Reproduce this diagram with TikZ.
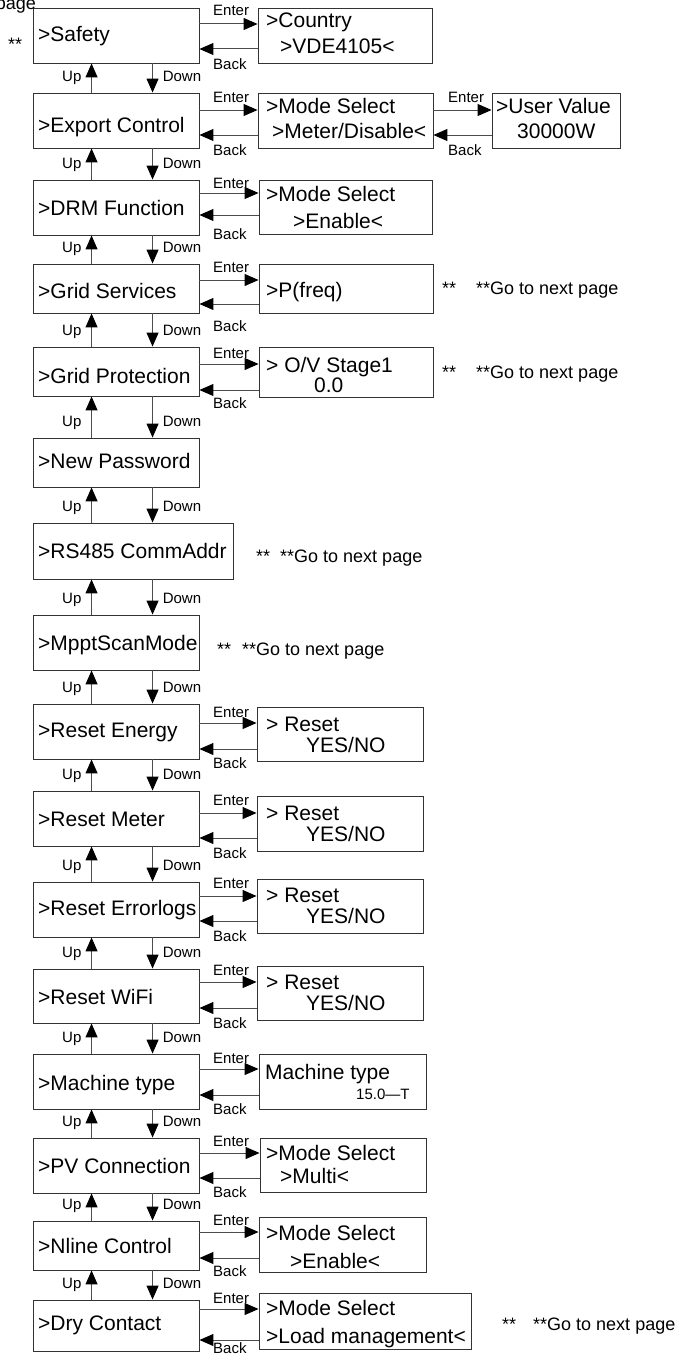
\documentclass[tikz,border=0pt]{standalone}
\usepackage{fontspec}
\setmainfont{Liberation Sans}
\usetikzlibrary{arrows.meta,fit}
\begin{document}
\begin{tikzpicture}[x=1pt,y=-1pt,
  box/.style={draw=black!80, line width=0.9pt, inner sep=0pt},
  big/.style={font=\fontsize{21}{25}\selectfont, inner sep=0pt, anchor=base west},
  small/.style={font=\fontsize{15}{18}\selectfont, inner sep=0pt, anchor=base west},
  note/.style={font=\fontsize{18}{21}\selectfont, inner sep=0pt, anchor=base west},
  arr/.style={draw=black!70, line width=1pt, -{Triangle[length=14pt,width=12pt,color=black]}}]
\useasboundingbox (0,0) rectangle (680,1354);

% left column boxes
\node[box, fit={(33,8)(199,63)}] (L1) {};
\node[box, fit={(33,93)(199,148)}] (L2) {};
\node[box, fit={(33,180)(199,235)}] (L3) {};
\node[box, fit={(33,264)(199,313)}] (L4) {};
\node[box, fit={(33,347)(199,396)}] (L5) {};
\node[box, fit={(33,438)(199,487)}] (L6) {};
\node[box, fit={(33,523)(233,579)}] (L7) {};
\node[box, fit={(33,615)(199,670)}] (L8) {};
\node[box, fit={(33,704)(199,759)}] (L9) {};
\node[box, fit={(33,791)(199,846)}] (L10) {};
\node[box, fit={(33,882)(199,937)}] (L11) {};
\node[box, fit={(33,969)(199,1023)}] (L12) {};
\node[box, fit={(33,1054)(199,1109)}] (L13) {};
\node[box, fit={(33,1138)(199,1193)}] (L14) {};
\node[box, fit={(33,1221)(199,1270)}] (L15) {};
\node[box, fit={(33,1300)(199,1351)}] (L16) {};

\node[big] (t1) at (38,42) {>Safety};
\node[big] (t2) at (38,132) {>Export Control};
\node[big] (t3) at (38,215) {>DRM Function};
\node[big] (t4) at (38,298) {>Grid Services};
\node[big] (t5) at (38,383) {>Grid Protection};
\node[big] (t6) at (38,468) {>New Password};
\node[big] (t7) at (38,558) {>RS485 CommAddr};
\node[big] (t8) at (38,650) {>MpptScanMode};
\node[big] (t9) at (38,737) {>Reset Energy};
\node[big] (t10) at (38,826) {>Reset Meter};
\node[big] (t11) at (38,915) {>Reset Errorlogs};
\node[big] (t12) at (38,1004) {>Reset WiFi};
\node[big] (t13) at (38,1090) {>Machine type};
\node[big] (t14) at (38,1173) {>PV Connection};
\node[big] (t15) at (38,1253) {>Nline Control};
\node[big] (t16) at (38,1330) {>Dry Contact};

% right column boxes
\node[box, fit={(258,8)(432,63)}] (R1) {};
\node[box, fit={(258,93)(433,148)}] (R2) {};
\node[box, fit={(492,93)(620,148)}] (U2) {};
\node[box, fit={(259,180)(432,234)}] (R3) {};
\node[box, fit={(259,264)(433,313)}] (R4) {};
\node[box, fit={(259,347)(433,397)}] (R5) {};
\node[box, fit={(257,707)(423,761)}] (R9) {};
\node[box, fit={(257,796)(423,851)}] (R10) {};
\node[box, fit={(257,879)(423,933)}] (R11) {};
\node[box, fit={(257,966)(423,1020)}] (R12) {};
\node[box, fit={(259,1054)(426,1109)}] (R13) {};
\node[box, fit={(260,1138)(426,1192)}] (R14) {};
\node[box, fit={(259,1217)(426,1272)}] (R15) {};
\node[box, fit={(259,1293)(471,1349)}] (R16) {};

\node[big] (r1a) at (266,28) {>Country};
\node[big] (r1b) at (280,53) {>VDE4105<};
\node[big] (r2a) at (266,113) {>Mode Select};
\node[big] (r2b) at (272,138) {>Meter/Disable<};
\node[big] (u2a) at (496,113) {>User Value};
\node[big] (u2b) at (517,138) {30000W};
\node[big] (r3a) at (266,201) {>Mode Select};
\node[big] (r3b) at (293,228) {>Enable<};
\node[big] (r4a) at (266,297) {>P(freq)};
\node[big] (r5a) at (266,372) {> O/V Stage1};
\node[big] (r5b) at (314,392) {0.0};
\node[big] (r9a) at (266,731) {> Reset};
\node[big] (r9b) at (306,752) {YES/NO};
\node[big] (r10a) at (266,820) {> Reset};
\node[big] (r10b) at (306,841) {YES/NO};
\node[big] (r11a) at (266,902) {> Reset};
\node[big] (r11b) at (306,923) {YES/NO};
\node[big] (r12a) at (266,989) {> Reset};
\node[big] (r12b) at (306,1010) {YES/NO};
\node[big] (r13a) at (265,1079) {Machine type};
\node[small] (r13b) at (356,1099) {15.0—T};
\node[big] (r14a) at (266,1160) {>Mode Select};
\node[big] (r14b) at (280,1183) {>Multi<};
\node[big] (r15a) at (266,1240) {>Mode Select};
\node[big] (r15b) at (290,1268) {>Enable<};
\node[big] (r16a) at (266,1315) {>Mode Select};
\node[big] (r16b) at (266,1343) {>Load management<};

% Enter / Back connectors
\foreach \i/\ye/\yb/\yel/\ybl in {1/24/49/16/70, 2/110/135/102/155, 3/193/215/188/239,
   4/280/304/272/331, 5/364/390/358/408, 9/723/749/717/768, 10/813/838/805/858,
   11/896/921/888/941, 12/982/1008/975/1028, 13/1069/1095/1063/1114,
   14/1153/1178/1146/1197, 15/1232/1258/1225/1276, 16/1309/1340/1303/1353}{
  \coordinate (e\i) at (0,\ye);
  \coordinate (b\i) at (0,\yb);
  \draw[arr] (L\i.east |- e\i) -- (R\i.west |- e\i);
  \draw[arr] (R\i.west |- b\i) -- (L\i.east |- b\i);
  \node[small] (en\i) at (213,\yel) {Enter};
  \node[small] (bk\i) at (213,\ybl) {Back};
}
\coordinate (eu) at (0,110);
\coordinate (bu) at (0,135);
\draw[arr] (R2.east |- eu) -- (U2.west |- eu);
\draw[arr] (U2.west |- bu) -- (R2.east |- bu);
\node[small] (enu) at (448,102) {Enter};
\node[small] (bku) at (448,155) {Back};

% Up / Down connectors
\foreach \i [evaluate=\i as \j using int(\i+1)] in {1,...,15}{
  \draw[arr] ([xshift=59pt]L\j.north west) -- ([xshift=59pt]L\i.south west);
  \draw[arr] ([xshift=120pt]L\i.south west) -- ([xshift=120pt]L\j.north west);
  \node[small, anchor=base east] (up\i) at ([shift={(49pt,11pt)}]L\j.north west) {Up};
  \node[small] (dn\i) at ([shift={(130pt,11pt)}]L\j.north west) {Down};
}

% notes
\node[note, anchor=base east] (pg) at (36,9.5) {page};
\node[note] (s1) at (8,51) {**};
\node[note] (s4) at (442,294) {**};
\node[note] (g4) at (476,294) {**Go to next page};
\node[note] (s5) at (442,378) {**};
\node[note] (g5) at (476,378) {**Go to next page};
\node[note] (s7) at (256,562) {**};
\node[note] (g7) at (280,562) {**Go to next page};
\node[note] (s8) at (217,655) {**};
\node[note] (g8) at (242,655) {**Go to next page};
\node[note] (s16) at (502,1330) {**};
\node[note] (g16) at (533,1330) {**Go to next page};
\end{tikzpicture}
\end{document}
